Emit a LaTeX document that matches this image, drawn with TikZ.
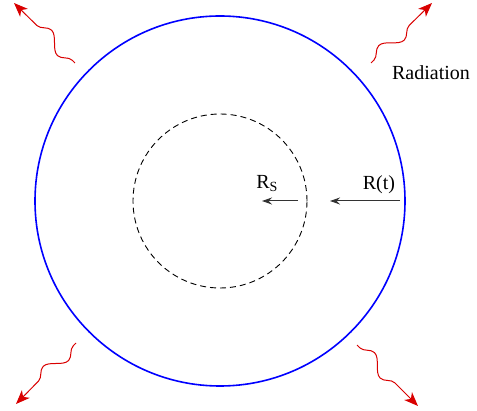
\documentclass[tikz,border=0pt]{standalone}
\usepackage{fontspec}
\setmainfont{Liberation Serif}
\usetikzlibrary{arrows.meta, decorations.pathmorphing}
\tikzset{
    shell/.style={draw=blue, line width=0.8pt},
    horizon/.style={draw=black, line width=0.45pt, dash pattern=on 3pt off 2pt},
    shrink/.style={draw=black!80, line width=0.5pt, -{Stealth[length=5pt, width=3.5pt]}},
    wave/.style={draw=red!85!black, line width=0.5pt, -{Stealth[length=7pt, width=5.5pt, inset=2pt]},
        decorate, decoration={snake, amplitude=3.5pt, segment length=22pt, post length=6pt, pre length=2pt}}
}
\begin{document}
\begin{tikzpicture}[x=0.5pt, y=-0.5pt]
    \useasboundingbox (0,0) rectangle (477,411);
    \coordinate (centre) at (220,201);
    \draw [shell] (centre) circle [radius=92.5pt];
    \draw [horizon] (centre) circle [radius=43.5pt];

    % shrinking radius
    \coordinate (rt) at (400,201);
    \coordinate (rtend) at (330,201);
    \coordinate (rs) at (298,201);
    \coordinate (rsend) at (262,201);
    \draw [shrink] (rt) -- node[pos=0.3, above] {R(t)} (rtend);
    \draw [shrink] (rs) -- node[pos=0.85, above, yshift=1pt] {R\textsubscript{S}} (rsend);

    % outgoing radiation
    \coordinate (w1) at (75,63);   \coordinate (t1) at (14,3);
    \coordinate (w2) at (371,63);  \coordinate (t2) at (432,3);
    \coordinate (w3) at (76,343);  \coordinate (t3) at (16,404);
    \coordinate (w4) at (357,345); \coordinate (t4) at (418,406);
    \draw [wave] (w1) -- (t1);
    \draw [wave] (w2) -- (t2);
    \draw [wave] (w3) -- (t3);
    \draw [wave] (w4) -- (t4);
    \node (rad) at (431,73) {Radiation};
\end{tikzpicture}
\end{document}
